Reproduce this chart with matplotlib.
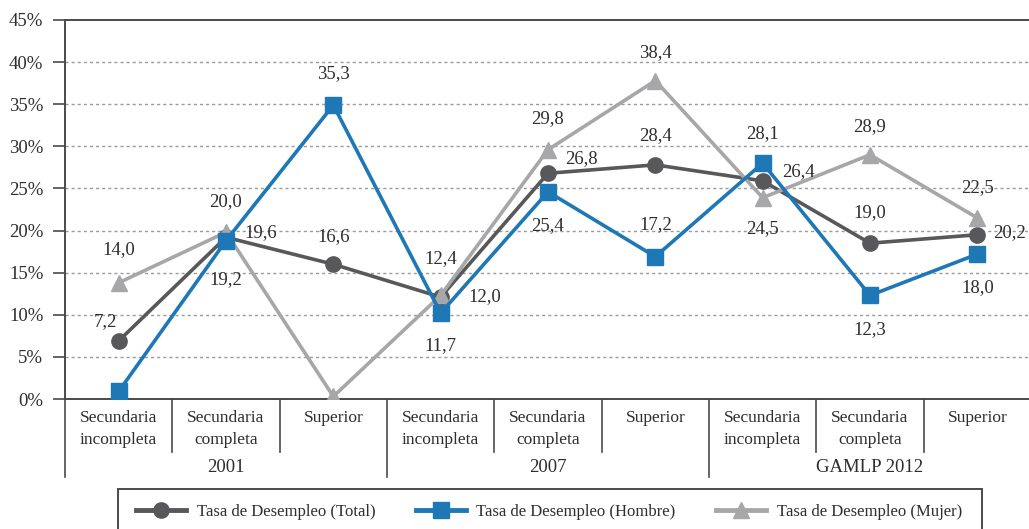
import matplotlib
matplotlib.use("Agg")
import matplotlib.pyplot as plt
from matplotlib.patches import Rectangle
from matplotlib.lines import Line2D

plt.rcParams['font.family'] = ['Liberation Serif', 'DejaVu Serif']

# ---------------- data ----------------
cat_line1 = ["Secundaria", "Secundaria", "Superior"] * 3
cat_line2 = ["incompleta", "completa", ""] * 3
groups = ["2001", "2007", "GAMLP 2012"]

total_vals = [6.9, 19.2, 16.0, 12.1, 26.8, 27.8, 25.9, 18.5, 19.5]
total_lbls = ["7,2", "19,6", "16,6", "12,0", "26,8", "28,4", "26,4", "19,0", "20,2"]

hombre_vals = [0.9, 18.8, 34.9, 10.2, 24.6, 16.9, 28.0, 12.3, 17.2]
hombre_lbls = ["", "19,2", "35,3", "11,7", "25,4", "17,2", "28,1", "12,3", "18,0"]

mujer_vals = [13.8, 19.8, 0.3, 12.3, 29.6, 37.8, 23.9, 29.0, 21.5]
mujer_lbls = ["14,0", "20,0", "", "12,4", "29,8", "38,4", "24,5", "28,9", "22,5"]

series_names = ["Tasa de Desempleo (Total)", "Tasa de Desempleo (Hombre)",
                "Tasa de Desempleo (Mujer)"]

# ---------------- style ----------------
C_TOTAL = "#58585b"
C_HOMBRE = "#1f78b6"
C_MUJER = "#a7a7aa"
TXT = "#2e2e2e"
AX = "#4a4a4a"

# label offsets in pixels (dx, dy), ha
total_off = [(-13, 19, 'center'), (18, 5, 'left'), (0, 28, 'center'), (28, 0, 'left'),
             (17, 15, 'left'), (0, 29, 'center'), (19, 9, 'left'), (0, 31, 'center'),
             (16, 2, 'left')]
hombre_off = [(0, 0, 'center'), (0, -39, 'center'), (0, 31, 'center'), (0, -33, 'center'),
              (0, -34, 'center'), (0, 32, 'center'), (0, 30, 'center'), (0, -34, 'center'),
              (0, -33, 'center')]
mujer_off = [(0, 33, 'center'), (0, 31, 'center'), (0, 0, 'center'), (0, 37, 'center'),
             (0, 31, 'center'), (0, 28, 'center'), (0, -31, 'center'), (0, 28, 'center'),
             (0, 30, 'center')]

W, H = 1029, 529
fig = plt.figure(figsize=(W / 100, H / 100), dpi=100)
ax_left, ax_right, ax_top, ax_bot = 65, 1031, 20, 399
ax = fig.add_axes([ax_left / W, (H - ax_bot) / H, (ax_right - ax_left) / W,
                   (ax_bot - ax_top) / H])

x = list(range(len(total_vals)))

ax.plot(x, total_vals, color=C_TOTAL, lw=2.6, marker='o', ms=11, zorder=3,
        label=series_names[0])
ax.plot(x, mujer_vals, color=C_MUJER, lw=2.6, marker='^', ms=12, zorder=4,
        label=series_names[2])
ax.plot(x, hombre_vals, color=C_HOMBRE, lw=2.6, marker='s', ms=11, zorder=5,
        label=series_names[1])

for vals, lbls, offs in [(total_vals, total_lbls, total_off),
                         (hombre_vals, hombre_lbls, hombre_off),
                         (mujer_vals, mujer_lbls, mujer_off)]:
    for xi, v, l, (dx, dy, ha) in zip(x, vals, lbls, offs):
        if not l:
            continue
        ax.annotate(l, (xi, v), xytext=(dx, dy), textcoords='offset pixels',
                    ha=ha, va='center', fontsize=13.5, color=TXT, zorder=6,
                    annotation_clip=False)

ax.set_xlim(-0.5, len(x) - 0.5)
ax.set_ylim(0, 45)
ax.set_yticks(range(0, 50, 5))
ax.set_yticklabels([f"{v}%" for v in range(0, 50, 5)], fontsize=13.5, color=TXT)
ax.tick_params(axis='y', direction='out', length=8.6, width=1.2, color=AX, pad=7)
ax.set_xticks([])
for y in range(5, 45, 5):
    ax.axhline(y, color="#9a9a9a", lw=1.0, ls=(0, (2.2, 2.2)), zorder=1)

for s in ['left', 'top', 'bottom']:
    ax.spines[s].set_color(AX)
    ax.spines[s].set_linewidth(1.4)
ax.spines['right'].set_visible(False)

# category separators and labels
axh = ax_bot - ax_top
tr = ax.get_xaxis_transform()
inner_y = -(452 - ax_bot) / axh
group_y = -(477 - ax_bot) / axh
for k in range(len(x) + 1):
    bottom = group_y if k % 3 == 0 else inner_y
    ax.plot([k - 0.5, k - 0.5], [0, bottom], transform=tr, color=AX, lw=1.2,
            clip_on=False, zorder=2)

y1 = -(418 - ax_bot) / axh
y2 = -(440 - ax_bot) / axh
for xi, a, b in zip(x, cat_line1, cat_line2):
    ax.text(xi, y1, a, transform=tr, ha='center', va='center', fontsize=12.5, color=TXT)
    if b:
        ax.text(xi, y2, b, transform=tr, ha='center', va='center', fontsize=12.5,
                color=TXT)
yg = -(467 - ax_bot) / axh
for gi, g in enumerate(groups):
    ax.text(gi * 3 + 1, yg, g, transform=tr, ha='center', va='center', fontsize=13.5,
            color=TXT)

# legend
fig.patches.append(Rectangle((118 / W, -0.02), (982 - 118) / W, (529 - 489) / H + 0.02,
                             transform=fig.transFigure, fill=False, ec=AX, lw=1.4))
handles = [Line2D([], [], color=C_TOTAL, lw=3.5, marker='o', ms=11),
           Line2D([], [], color=C_HOMBRE, lw=3.5, marker='s', ms=11),
           Line2D([], [], color=C_MUJER, lw=3.5, marker='^', ms=12)]
fig.legend(handles, series_names, loc='center', bbox_to_anchor=(549 / W, 17 / H),
           ncol=3, frameon=False, fontsize=12, handlelength=3.0, handletextpad=0.65,
           columnspacing=2.4, labelcolor=TXT)

fig.savefig("out.png", dpi=100)
